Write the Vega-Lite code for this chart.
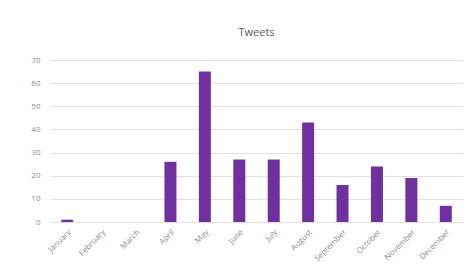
{
  "$schema": "https://vega.github.io/schema/vega-lite/v6.json",
  "autosize": "none",
  "width": 413,
  "height": 162,
  "padding": {"left": 50, "top": 60, "right": 4, "bottom": 56},
  "background": "white",
  "title": {"text": "Tweets", "fontSize": 11, "fontWeight": "normal", "color": "#595959", "font": "Open Sans", "offset": 18},
  "data": {"values": [
    {"month": "January", "tweets": 1},
    {"month": "February", "tweets": 0},
    {"month": "March", "tweets": 0},
    {"month": "April", "tweets": 26},
    {"month": "May", "tweets": 65},
    {"month": "June", "tweets": 27},
    {"month": "July", "tweets": 27},
    {"month": "August", "tweets": 43},
    {"month": "September", "tweets": 16},
    {"month": "October", "tweets": 24},
    {"month": "November", "tweets": 19},
    {"month": "December", "tweets": 7}
  ]},
  "mark": {"type": "bar", "color": "#7030A0", "width": 12},
  "encoding": {
    "x": {"field": "month", "type": "nominal", "sort": null, "title": null,
      "scale": {"paddingInner": 0.6, "paddingOuter": 0.3},
      "axis": {"labelAngle": -45, "labelFontSize": 8, "labelColor": "#8c8c8c", "labelFont": "Open Sans", "domain": false, "ticks": false, "labelPadding": 6, "grid": false}},
    "y": {"field": "tweets", "type": "quantitative", "title": null,
      "scale": {"domain": [0, 70]},
      "axis": {"values": [0, 10, 20, 30, 40, 50, 60, 70], "labelFontSize": 8, "labelColor": "#8c8c8c", "labelFont": "Open Sans", "domain": false, "ticks": false, "labelPadding": 10, "gridColor": "#e0e0e0", "gridWidth": 1.2}}
  },
  "config": {"view": {"stroke": null}}
}
